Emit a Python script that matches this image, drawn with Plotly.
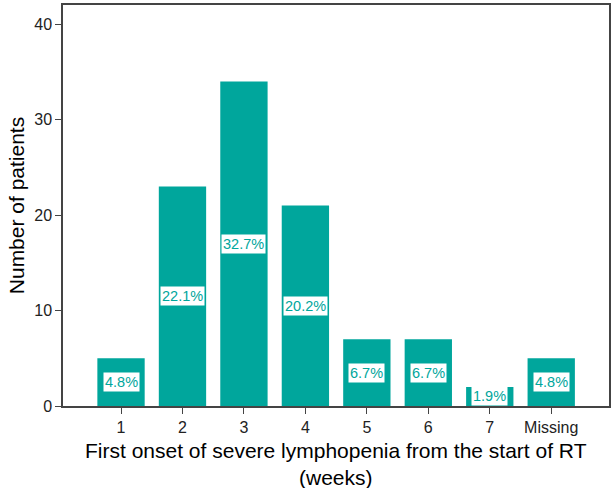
import plotly.graph_objects as go

categories = ["1", "2", "3", "4", "5", "6", "7", "Missing"]
patients = [5, 23, 34, 21, 7, 7, 2, 5]
y_ticks = [0, 10, 20, 30, 40]
x_title = "First onset of severe lymphopenia from the start of RT<br>(weeks)"

teal = "#00A69C"
total = sum(patients)
xs = list(range(len(categories)))

fig = go.Figure()
fig.add_trace(go.Bar(
    x=xs, y=patients, width=0.77,
    marker=dict(color=teal, line=dict(width=0)),
    hoverinfo="skip",
))

for x, v in zip(xs, patients):
    fig.add_annotation(
        x=x, y=v / 2, text=f"{v / total * 100:.1f}%",
        showarrow=False, bgcolor="white", borderpad=1,
        font=dict(family="Liberation Sans", size=14.5, color=teal),
    )

fig.add_annotation(
    xref="paper", yref="paper", x=0.5, y=0, yanchor="middle",
    yshift=-58, text=x_title, showarrow=False,
    font=dict(family="Liberation Sans", size=21, color="black"),
)

fig.update_layout(
    width=615, height=488,
    margin=dict(l=63, r=6, t=5, b=82),
    paper_bgcolor="white", plot_bgcolor="white",
    showlegend=False,
    font=dict(family="Liberation Sans", size=16, color="#222"),
    xaxis=dict(
        range=[-0.944, 7.94], tickvals=xs, ticktext=categories,
        showline=True, linecolor="#444", linewidth=1.5, mirror=True,
        ticks="outside", ticklen=6, tickcolor="#444", showgrid=False,
        zeroline=False, automargin=False,
    ),
    yaxis=dict(
        range=[0, 42], tickvals=y_ticks,
        showline=True, linecolor="#444", linewidth=1.5, mirror=True,
        ticks="outside", ticklen=6, tickcolor="#444", showgrid=False,
        zeroline=False, automargin=False,
        title=dict(text="Number of patients", font=dict(size=21, color="black"), standoff=4),
    ),
)

fig.write_html("out.html", config={"displayModeBar": False},
               post_script="document.body.style.margin='0';")
